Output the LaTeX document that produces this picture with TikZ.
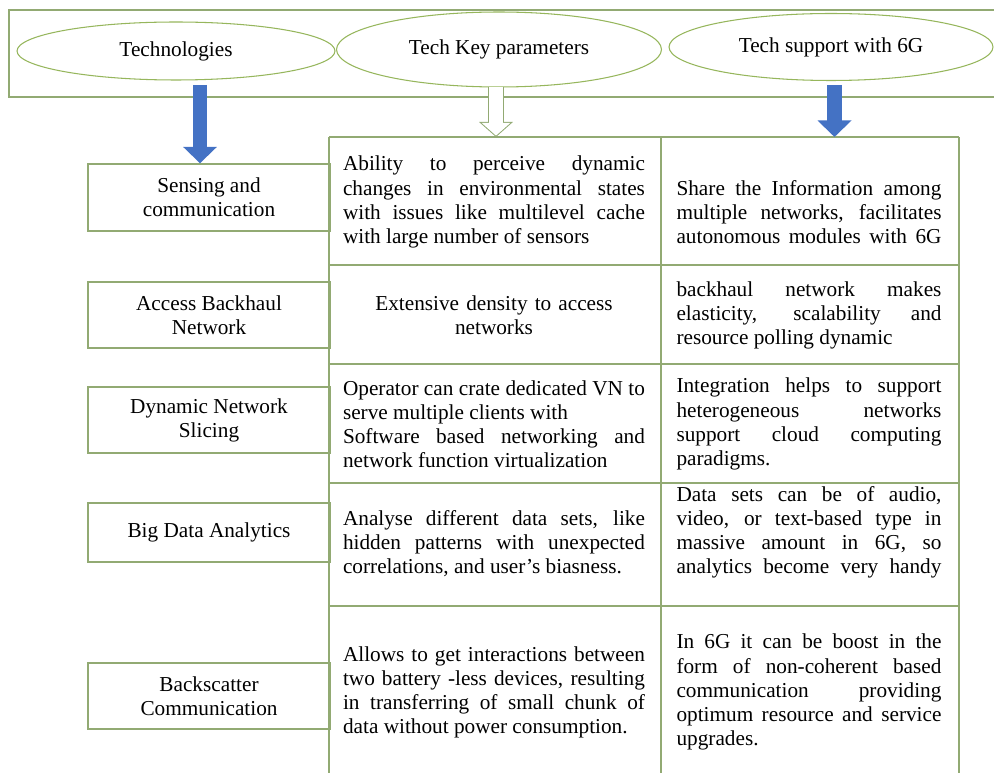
\documentclass[tikz,border=0pt]{standalone}
\usepackage{fontspec}
\setmainfont{Liberation Serif}
\usetikzlibrary{shapes.geometric,arrows.meta}

\definecolor{boxgreen}{RGB}{146,170,115}
\definecolor{ringgreen}{RGB}{150,182,92}
\definecolor{arrowblue}{RGB}{68,114,196}

\begin{document}
\begin{tikzpicture}[x={(0.02cm,0)},y={(0,-0.02cm)},
    every node/.style={font=\fontsize{12.1}{13.7}\selectfont},
    frame/.style={draw=boxgreen,line width=0.8pt},
    ring/.style={ellipse,draw=ringgreen,line width=0.6pt,fill=white,inner sep=0pt},
    techbox/.style={rectangle,draw=boxgreen,line width=0.8pt,fill=white,minimum width=4.84cm,align=center,inner sep=0pt},
    keytext/.style={text width=6.04cm,align=justify,inner sep=0pt},
    suptext/.style={text width=5.3cm,align=justify,inner sep=0pt},
    bluearrow/.style={arrowblue,line width=0.29cm,-{Triangle[length=0.33cm,width=0.66cm]}},
    hollowout/.style={boxgreen,line width=0.32cm,-{Triangle[length=0.3cm,width=0.66cm]}},
    hollowin/.style={white,line width=0.28cm,shorten >=0.027cm,-{Triangle[length=0.253cm,width=0.556cm]}}]
        \useasboundingbox (0,0) rectangle (994,773);
        % Header
        \draw[frame] (994,10) -- (9,10) -- (9,97) -- (994,97);
        \node[ring,minimum width=6.36cm,minimum height=1.16cm] (tech) at (176,51) {Technologies};
        \node[ring,minimum width=6.5cm,minimum height=1.5cm] (keyp) at (499,49.5) {Tech Key parameters};
        \node[ring,minimum width=6.48cm,minimum height=1.34cm] (supp) at (831,47) {Tech support with 6G};
        % Technologies
        \node[techbox,minimum height=1.34cm] (sens) at (209,197.5) {Sensing and\\communication};
        \node[techbox,minimum height=1.32cm] (back) at (209,315) {Access Backhaul\\Network};
        \node[techbox,minimum height=1.32cm] (slic) at (209,420) {Dynamic Network\\Slicing};
        \node[techbox,minimum height=1.18cm] (bigd) at (209,532.5) {Big Data Analytics};
        \node[techbox,minimum height=1.32cm] (bsc) at (209,696) {Backscatter\\Communication};
        % Table
        \foreach \ry in {137,265,364,483,606}
          \draw[frame] (329,\ry) -- (959,\ry);
        \foreach \cx in {329,661,959}
          \draw[frame] (\cx,137) -- (\cx,773);
        \coordinate (tabtop) at (329,137);
        % Arrows
        \coordinate (a1) at (200,85);
        \coordinate (a2) at (496,87.5);
        \coordinate (a3) at (834.5,85);
        \draw[bluearrow] (a1) -- (a1 |- sens.north);
        \draw[hollowout] (a2) -- (a2 |- tabtop);
        \draw[hollowin] (a2) -- (a2 |- tabtop);
        \draw[bluearrow] (a3) -- (a3 |- tabtop);
        % Key parameters
        \node[keytext] (k1) at (494,202) {Ability to perceive dynamic\linebreak changes in environmental states\linebreak with issues like multilevel cache\linebreak with large number of sensors};
        \node[keytext,align=center] (k2) at (494,315) {Extensive density to access\\networks};
        \node[keytext] (k3) at (494,424) {Operator can crate dedicated VN to\linebreak serve multiple clients with\\Software based networking and\linebreak network function virtualization};
        \node[keytext] (k4) at (494,544) {Analyse different data sets, like\linebreak hidden patterns with unexpected\linebreak correlations, and user’s biasness.};
        \node[keytext] (k5) at (494,692) {Allows to get interactions between\linebreak two battery -less devices, resulting\linebreak in transferring of small chunk of\linebreak data without power consumption.};
        % Support with 6G
        \node[suptext] (s1) at (809,212) {\parfillskip=0pt Share the Information among\linebreak multiple networks, facilitates\linebreak autonomous modules with 6G\par};
        \node[suptext] (s2) at (809,315) {backhaul network makes\linebreak elasticity, scalability and\linebreak resource polling dynamic};
        \node[suptext] (s3) at (809,424) {Integration helps to support\linebreak heterogeneous networks\linebreak support cloud computing\linebreak paradigms.};
        \node[suptext] (s4) at (809,532) {\parfillskip=0pt Data sets can be of audio,\linebreak video, or text-based type in\linebreak massive amount in 6G, so\linebreak analytics become very handy\par};
        \node[suptext] (s5) at (809,692) {In 6G it can be boost in the\linebreak form of non-coherent based\linebreak communication providing\linebreak optimum resource and service\linebreak upgrades.};
\end{tikzpicture}
\end{document}
